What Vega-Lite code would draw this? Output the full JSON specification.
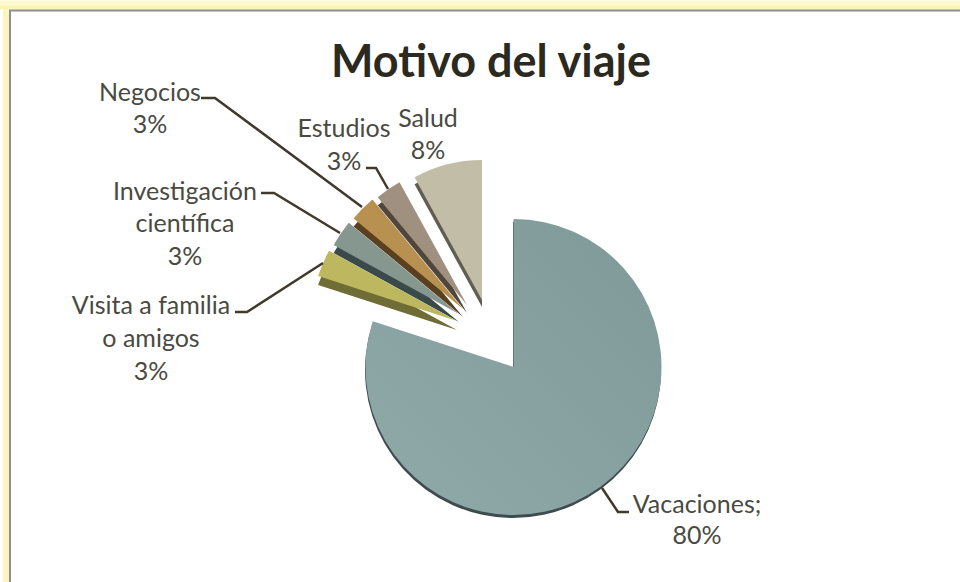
{"$schema":"https://vega.github.io/schema/vega-lite/v6.json","width":960,"height":582,"padding":0,"autosize":"none","background":"white","config":{"view":{"stroke":null}},
"datasets":{"uno":[{"id":1}],"motivos":[{"motivo":"Vacaciones","valor":80,"orden":1},{"motivo":"Visita a familia o amigos","valor":3,"orden":2},{"motivo":"Investigación científica","valor":3,"orden":3},{"motivo":"Negocios","valor":3,"orden":4},{"motivo":"Estudios","valor":3,"orden":5},{"motivo":"Salud","valor":8,"orden":6}],
"etiquetas":[{"t":"Negocios","x":150,"y":93},{"t":"3%","x":150,"y":125},{"t":"Estudios","x":344,"y":129},{"t":"3%","x":344,"y":162},{"t":"Salud","x":428,"y":119},{"t":"8%","x":428,"y":151},{"t":"Investigación","x":185,"y":192},{"t":"científica","x":185,"y":224},{"t":"3%","x":185,"y":257},{"t":"Visita a familia","x":151,"y":306},{"t":"o amigos","x":151,"y":339},{"t":"3%","x":151,"y":372},{"t":"Vacaciones;","x":697,"y":505},{"t":"80%","x":697,"y":536}],
"guias":[{"g":"N","o":1,"x":201,"y":98},{"g":"N","o":2,"x":215,"y":98},{"g":"N","o":3,"x":362,"y":207},{"g":"E","o":1,"x":366,"y":168},{"g":"E","o":2,"x":376,"y":168},{"g":"E","o":3,"x":388,"y":189},{"g":"I","o":1,"x":261,"y":193},{"g":"I","o":2,"x":274,"y":193},{"g":"I","o":3,"x":340,"y":233},{"g":"V","o":1,"x":235,"y":312},{"g":"V","o":2,"x":247,"y":312},{"g":"V","o":3,"x":323,"y":263},{"g":"H","o":1,"x":602,"y":488},{"g":"H","o":2,"x":618,"y":512},{"g":"H","o":3,"x":629,"y":512}]},
"layer":[
{"data":{"name":"uno"},"mark":{"type":"rule","color":"#fdf9cf","strokeWidth":5},"encoding":{"y":{"datum":3,"scale":{"domain":[0,582],"range":[0,582],"nice":false,"zero":false},"axis":null},"x":{"datum":0,"scale":{"domain":[0,960],"range":[0,960],"nice":false,"zero":false},"axis":null},"x2":{"datum":960}}},
{"data":{"name":"uno"},"mark":{"type":"rule","color":"#fbf5b4","strokeWidth":4},"encoding":{"y":{"datum":7.5},"x":{"datum":0},"x2":{"datum":960}}},
{"data":{"name":"uno"},"mark":{"type":"rule","color":"#fbf6c0","strokeWidth":6},"encoding":{"x":{"datum":6},"y":{"datum":9},"y2":{"datum":582}}},
{"data":{"name":"uno"},"mark":{"type":"rule","color":"#8e8e8e","strokeWidth":2},"encoding":{"y":{"datum":10.5},"x":{"datum":9},"x2":{"datum":960}}},
{"data":{"name":"uno"},"mark":{"type":"rule","color":"#8e8e8e","strokeWidth":2},"encoding":{"x":{"datum":10},"y":{"datum":10},"y2":{"datum":582}}},
{"data":{"name":"motivos"},"transform":[{"stack":"valor","sort":[{"field":"orden"}],"as":["a0","a1"]},{"filter":"datum.motivo==='Vacaciones'"}],"mark":{"type":"arc","outerRadius":148,"xOffset":33,"yOffset":79,"fill":"#3f4c4f"},"encoding":{"theta":{"field":"a0","type":"quantitative","scale":{"domain":[0,100],"range":[0,6.28319]}},"theta2":{"field":"a1"}}},
{"data":{"name":"motivos"},"transform":[{"stack":"valor","sort":[{"field":"orden"}],"as":["a0","a1"]},{"filter":"datum.motivo==='Vacaciones'"}],"mark":{"type":"arc","outerRadius":148,"xOffset":33.5,"yOffset":76,"fill":{"gradient":"linear","x1":0,"y1":1,"x2":1,"y2":0,"stops":[{"offset":0,"color":"#90a9a9"},{"offset":1,"color":"#7f9999"}]}},"encoding":{"theta":{"field":"a0","type":"quantitative"},"theta2":{"field":"a1"}}},
{"data":{"name":"motivos"},"transform":[{"stack":"valor","sort":[{"field":"orden"}],"as":["a0","a1"]},{"filter":"datum.motivo==='Salud'"}],"mark":{"type":"arc","outerRadius":140,"xOffset":2,"yOffset":16,"fill":"#5f5e50"},"encoding":{"theta":{"field":"a0","type":"quantitative"},"theta2":{"field":"a1"}}},
{"data":{"name":"motivos"},"transform":[{"stack":"valor","sort":[{"field":"orden"}],"as":["a0","a1"]},{"filter":"datum.motivo==='Salud'"}],"mark":{"type":"arc","outerRadius":140,"xOffset":2,"yOffset":9,"fill":"#c2bda6"},"encoding":{"theta":{"field":"a0","type":"quantitative"},"theta2":{"field":"a1"}}},
{"data":{"name":"motivos"},"transform":[{"stack":"valor","sort":[{"field":"orden"}],"as":["a0","a1"]},{"filter":"datum.motivo==='Estudios'"}],"mark":{"type":"arc","outerRadius":140,"xOffset":-13,"yOffset":22,"fill":"#4f463c"},"encoding":{"theta":{"field":"a0","type":"quantitative"},"theta2":{"field":"a1"}}},
{"data":{"name":"motivos"},"transform":[{"stack":"valor","sort":[{"field":"orden"}],"as":["a0","a1"]},{"filter":"datum.motivo==='Estudios'"}],"mark":{"type":"arc","outerRadius":140,"xOffset":-13,"yOffset":14,"fill":"#a09080"},"encoding":{"theta":{"field":"a0","type":"quantitative"},"theta2":{"field":"a1"}}},
{"data":{"name":"motivos"},"transform":[{"stack":"valor","sort":[{"field":"orden"}],"as":["a0","a1"]},{"filter":"datum.motivo==='Negocios'"}],"mark":{"type":"arc","outerRadius":142,"xOffset":-17,"yOffset":26,"fill":"#5a4020"},"encoding":{"theta":{"field":"a0","type":"quantitative"},"theta2":{"field":"a1"}}},
{"data":{"name":"motivos"},"transform":[{"stack":"valor","sort":[{"field":"orden"}],"as":["a0","a1"]},{"filter":"datum.motivo==='Negocios'"}],"mark":{"type":"arc","outerRadius":142,"xOffset":-17,"yOffset":18,"fill":"#b8904f"},"encoding":{"theta":{"field":"a0","type":"quantitative"},"theta2":{"field":"a1"}}},
{"data":{"name":"motivos"},"transform":[{"stack":"valor","sort":[{"field":"orden"}],"as":["a0","a1"]},{"filter":"datum.motivo==='Investigación científica'"}],"mark":{"type":"arc","outerRadius":143,"xOffset":-21,"yOffset":31,"fill":"#3a4a4a"},"encoding":{"theta":{"field":"a0","type":"quantitative"},"theta2":{"field":"a1"}}},
{"data":{"name":"motivos"},"transform":[{"stack":"valor","sort":[{"field":"orden"}],"as":["a0","a1"]},{"filter":"datum.motivo==='Investigación científica'"}],"mark":{"type":"arc","outerRadius":143,"xOffset":-21,"yOffset":23,"fill":"#85978f"},"encoding":{"theta":{"field":"a0","type":"quantitative"},"theta2":{"field":"a1"}}},
{"data":{"name":"motivos"},"transform":[{"stack":"valor","sort":[{"field":"orden"}],"as":["a0","a1"]},{"filter":"datum.motivo==='Visita a familia o amigos'"}],"mark":{"type":"arc","outerRadius":146,"xOffset":-23,"yOffset":39,"fill":"#6f6c36"},"encoding":{"theta":{"field":"a0","type":"quantitative"},"theta2":{"field":"a1"}}},
{"data":{"name":"motivos"},"transform":[{"stack":"valor","sort":[{"field":"orden"}],"as":["a0","a1"]},{"filter":"datum.motivo==='Visita a familia o amigos'"}],"mark":{"type":"arc","outerRadius":146,"xOffset":-23,"yOffset":30,"fill":"#bdb860"},"encoding":{"theta":{"field":"a0","type":"quantitative"},"theta2":{"field":"a1"}}},
{"data":{"name":"guias"},"mark":{"type":"line","color":"#3f3a2c","strokeWidth":2.5},"encoding":{"x":{"field":"x","type":"quantitative"},"y":{"field":"y","type":"quantitative"},"detail":{"field":"g"},"order":{"field":"o"}}},
{"data":{"name":"etiquetas"},"mark":{"type":"text","font":"Lato","fontSize":25,"color":"#4a4a42","align":"center","baseline":"middle"},"encoding":{"x":{"field":"x","type":"quantitative"},"y":{"field":"y","type":"quantitative"},"text":{"field":"t"}}},
{"data":{"name":"uno"},"mark":{"type":"text","text":"Motivo del viaje","font":"Lato","fontWeight":"bold","fontSize":45,"color":"#2c2a1e","align":"center","baseline":"middle"},"encoding":{"x":{"datum":491},"y":{"datum":63}}}
]}
